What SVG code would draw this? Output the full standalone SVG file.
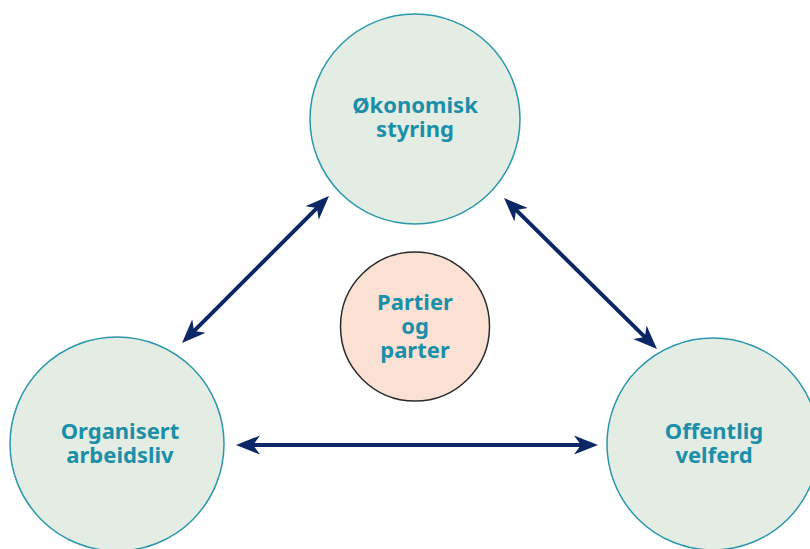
<svg xmlns="http://www.w3.org/2000/svg" width="810" height="549" viewBox="0 0 810 549">
<style>
.main{fill:#e4ede3;stroke:#2a97ad;stroke-width:1.5}
.core{fill:#fbe1d3;stroke:#2b2b2b;stroke-width:1.5}
.lbl{font-family:"Noto Sans","Open Sans",sans-serif;font-weight:bold;font-size:22px;fill:#1b8fa9;text-anchor:middle}
.conn{stroke:#0c2766;stroke-width:4;fill:none;marker-start:url(#ah);marker-end:url(#ah)}
</style>
<defs>
<marker id="ah" markerUnits="userSpaceOnUse" viewBox="-24 -11 26 22" refX="-14" refY="0" markerWidth="26" markerHeight="22" orient="auto-start-reverse">
<path d="M0,0 L-24,-9.5 L-17,0 L-24,9.5 Z" fill="#0c2766"/>
</marker>
</defs>
<rect width="810" height="549" fill="#ffffff"/>
<g id="connectors">
<path class="conn" d="M319.1,205.9 L191.9,333.1"/>
<path class="conn" d="M514,207.8 L647,339.2"/>
<path class="conn" d="M250,445 L584,445"/>
</g>
<g id="okonomisk">
<circle class="main" cx="415" cy="119" r="105"/>
<text class="lbl"><tspan x="415" y="113">Økonomisk</tspan><tspan x="415" y="137">styring</tspan></text>
</g>
<g id="partier">
<circle class="core" cx="415" cy="326.5" r="74.5"/>
<text class="lbl"><tspan x="415" y="310">Partier</tspan><tspan x="415" y="334">og</tspan><tspan x="415" y="358">parter</tspan></text>
</g>
<g id="organisert">
<circle class="main" cx="117" cy="444" r="107"/>
<text class="lbl"><tspan x="120" y="439">Organisert</tspan><tspan x="120" y="463">arbeidsliv</tspan></text>
</g>
<g id="offentlig">
<circle class="main" cx="713" cy="444" r="106"/>
<text class="lbl"><tspan x="714" y="439">Offentlig</tspan><tspan x="714" y="463">velferd</tspan></text>
</g>
</svg>
